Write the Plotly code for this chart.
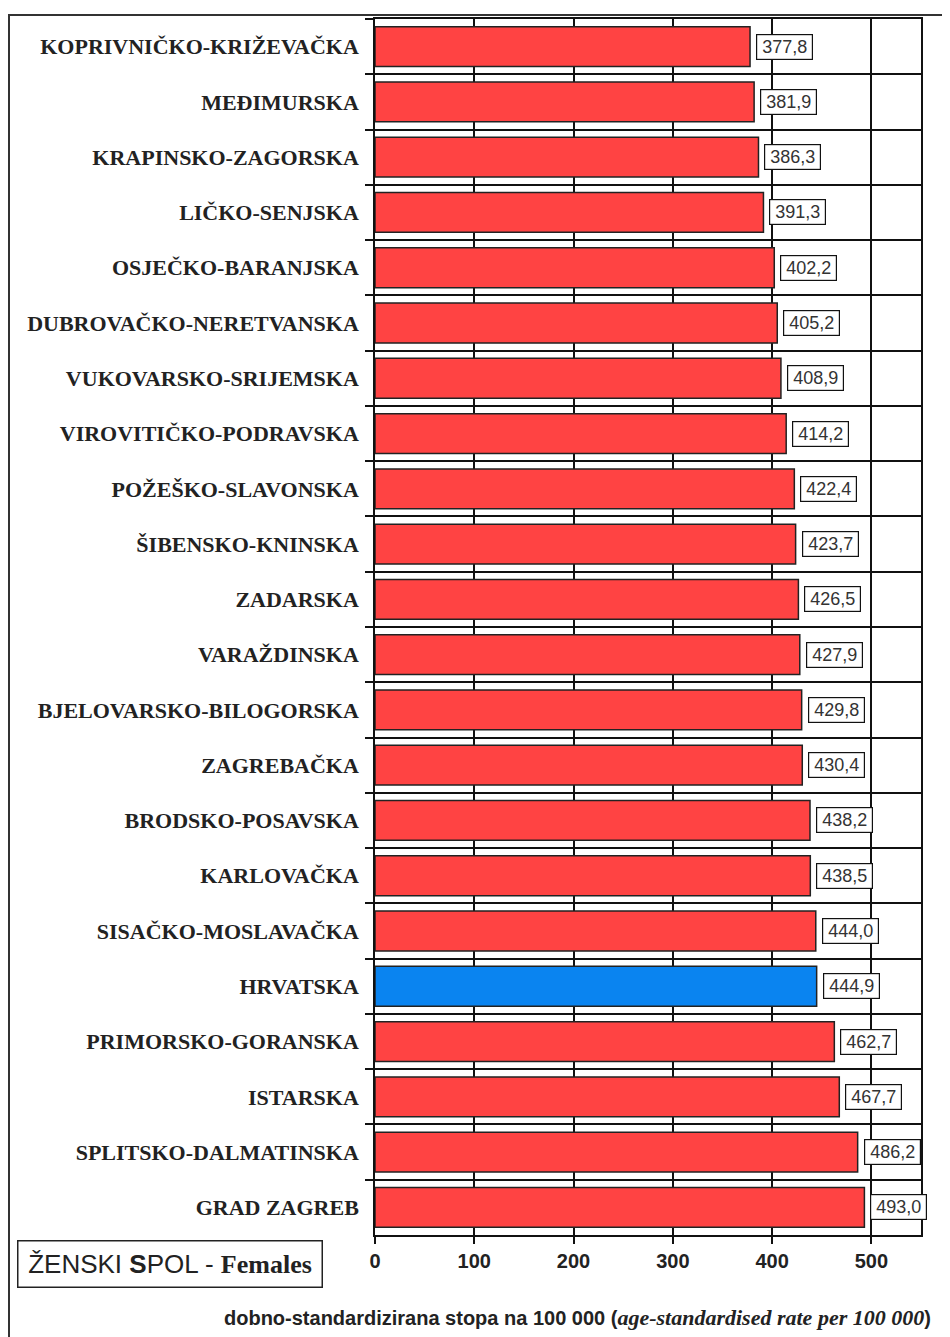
import plotly.graph_objects as go

counties = [
    "KOPRIVNIČKO-KRIŽEVAČKA", "MEĐIMURSKA", "KRAPINSKO-ZAGORSKA", "LIČKO-SENJSKA",
    "OSJEČKO-BARANJSKA", "DUBROVAČKO-NERETVANSKA", "VUKOVARSKO-SRIJEMSKA",
    "VIROVITIČKO-PODRAVSKA", "POŽEŠKO-SLAVONSKA", "ŠIBENSKO-KNINSKA", "ZADARSKA",
    "VARAŽDINSKA", "BJELOVARSKO-BILOGORSKA", "ZAGREBAČKA", "BRODSKO-POSAVSKA",
    "KARLOVAČKA", "SISAČKO-MOSLAVAČKA", "HRVATSKA", "PRIMORSKO-GORANSKA",
    "ISTARSKA", "SPLITSKO-DALMATINSKA", "GRAD ZAGREB",
]
rates = [377.8, 381.9, 386.3, 391.3, 402.2, 405.2, 408.9, 414.2, 422.4, 423.7, 426.5,
         427.9, 429.8, 430.4, 438.2, 438.5, 444.0, 444.9, 462.7, 467.7, 486.2, 493.0]
x_ticks = [0, 100, 200, 300, 400, 500]

RED = "#FF4343"
BLUE = "#0A84F0"
colors = [BLUE if c == "HRVATSKA" else RED for c in counties]

OFF = 8  # default body margin of the html page
W, H = 950 - OFF, 1337 - OFF
# plot area in page px
L, R, T, B = 375, 921, 17, 1235


def px_x(p):
    return (p - L) / (R - L)


def px_y(p):
    return (B - p) / (B - T)


fig = go.Figure()
fig.add_trace(go.Bar(
    x=rates, y=counties, orientation="h",
    marker=dict(color=colors, line=dict(color="#222222", width=1.5)),
    width=0.72, hoverinfo="x+y",
))

for c, v in zip(counties, rates):
    fig.add_annotation(
        x=v, y=c, xref="x", yref="y",
        text=f"{v:.1f}".replace(".", ","),
        showarrow=False, xanchor="left", xshift=6,
        font=dict(family="Liberation Sans, Arial", size=18, color="#333333"),
        bgcolor="white", bordercolor="#111111", borderwidth=1.2,
        width=51, height=20, borderpad=2,
    )

# legend-like box
fig.add_annotation(
    xref="paper", yref="paper", x=px_x(170), y=px_y(1264),
    text="ŽENSKI <b>S</b>POL - <b><span style='font-family:Liberation Serif'>Females</span></b>",
    showarrow=False, xanchor="center", yanchor="middle",
    font=dict(family="Liberation Sans, Arial", size=26, color="#222222"),
    bgcolor="white", bordercolor="#222222", borderwidth=1.5,
    width=299, height=41, borderpad=2,
)

# axis title
fig.add_annotation(
    xref="paper", yref="paper", x=px_x(577), y=px_y(1318),
    text=("<b>dobno-standardizirana stopa na 100 000 (<span style='font-family:Liberation Serif;font-size:22px'>"
          "<i>age-standardised rate per 100 000</i></span>)</b>"),
    showarrow=False, xanchor="center", yanchor="middle",
    font=dict(family="Liberation Sans, Arial", size=20, color="#222222"),
)

# outer frame
fig.add_shape(
    type="rect", xref="paper", yref="paper",
    x0=px_x(9), x1=px_x(975), y0=px_y(1380), y1=px_y(13),
    line=dict(color="#333333", width=2), layer="below",
)

fig.update_layout(
    width=W, height=H,
    margin=dict(l=L - OFF, r=W - (R - OFF), t=T - OFF, b=H - (B - OFF)),
    paper_bgcolor="white", plot_bgcolor="white",
    showlegend=False,
    bargap=0.28,
)
fig.update_xaxes(
    range=[0, 550], tickvals=x_ticks, ticktext=[str(t) for t in x_ticks],
    showgrid=True, gridcolor="#111111", gridwidth=1.5,
    showline=True, linecolor="#111111", linewidth=1.5, mirror=True,
    ticks="outside", ticklen=7, tickwidth=1.5, tickcolor="#111111",
    tickfont=dict(family="Liberation Sans, Arial", size=20, color="#222222", weight="bold"),
    zeroline=False,
)
fig.update_yaxes(
    type="category", categoryorder="array", categoryarray=counties,
    autorange="reversed", tickson="boundaries",
    showgrid=True, gridcolor="#111111", gridwidth=1.5,
    showline=True, linecolor="#111111", linewidth=1.5, mirror=True,
    ticks="outside", ticklen=8, tickwidth=1.5, tickcolor="#111111",
    ticklabelstandoff=10,
    tickfont=dict(family="Liberation Serif, Times New Roman", size=22, color="#222222", weight="bold"),
)

fig.write_html("out.html")
